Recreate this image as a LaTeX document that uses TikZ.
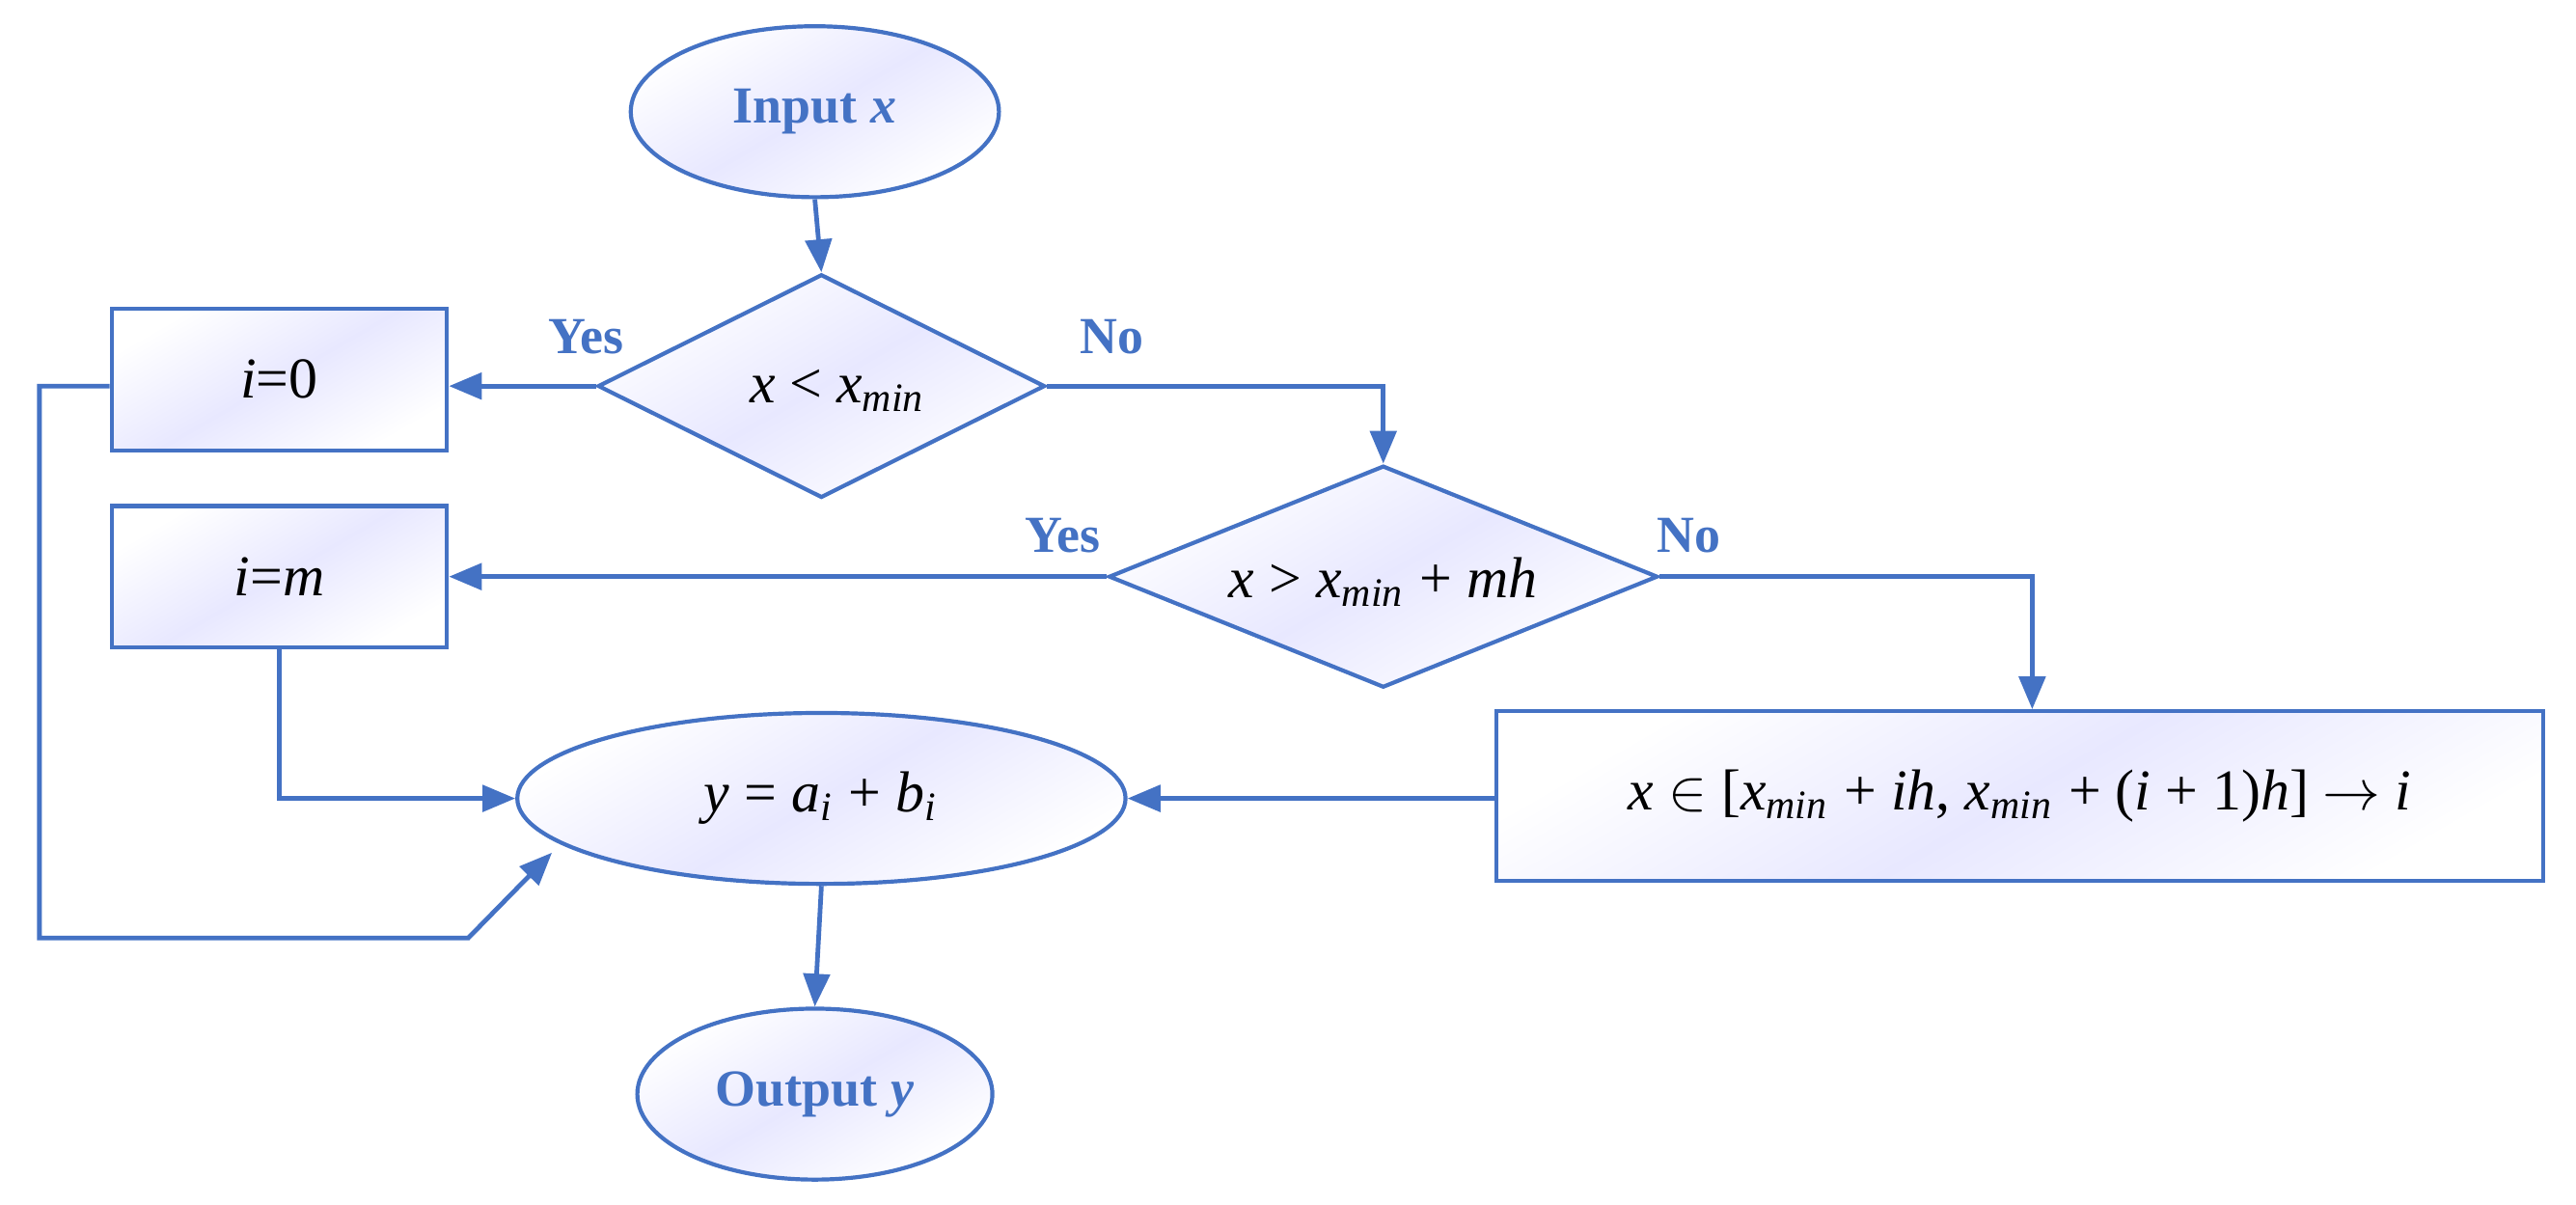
\documentclass[tikz,border=0pt]{standalone}
\usepackage{fontspec}
\setmainfont{Liberation Serif}
\usetikzlibrary{shapes.geometric,arrows.meta}
\definecolor{bl}{HTML}{4472C4}
\newcommand{\itx}{\textit}
\begin{document}
\begin{tikzpicture}[x=0.01cm,y=-0.01cm,
  sh/.style={draw=bl,line width=0.7pt,shading=axis,left color=white,right color=white,middle color=blue!9,shading angle=30,inner sep=0pt},
  el/.style={sh,ellipse},
  bx/.style={sh,rectangle},
  dm/.style={sh,diamond},
  ar/.style={draw=bl,line width=0.8pt,-{Triangle[length=0.2cm,width=0.16cm]}},
  lab/.style={text=bl,font=\fontsize{9}{10}\selectfont\bfseries},
  tx/.style={font=\fontsize{10}{12}\selectfont}]
\useasboundingbox (0,0) rectangle (1568,733);
\node[el,minimum width=2.24cm,minimum height=1.04cm,lab] (in) at (496,68) {Input \textit{x}};
\node[dm,minimum width=2.72cm,minimum height=1.36cm,aspect=2] (d1) at (500,235) {};
\node[tx] at (510,238) {\itx{x} < \itx{x}\textsubscript{\itx{min}}};
\node[bx,minimum width=2.04cm,minimum height=0.86cm,tx] (b0) at (170,231) {\itx{i}=0};
\node[dm,minimum width=3.34cm,minimum height=1.35cm,aspect=2.5] (d2) at (842,351) {};
\node[tx] at (842,354) {\itx{x} > \itx{x}\textsubscript{\itx{min}} + \itx{mh}};
\node[bx,minimum width=2.04cm,minimum height=0.86cm,tx] (bm) at (170,351) {\itx{i}=\itx{m}};
\node[el,minimum width=3.7cm,minimum height=1.04cm,tx] (y) at (500,486) {\itx{y} = \itx{a}\textsubscript{\itx{i}} + \itx{b}\textsubscript{\itx{i}}};
\node[bx,minimum width=6.37cm,minimum height=1.03cm,tx] (bi) at (1229.5,484.5) {\itx{x} $\in$ [\itx{x}\textsubscript{\itx{min}} + \itx{ih}, \itx{x}\textsubscript{\itx{min}} + (\itx{i} + 1)\itx{h}] $\rightarrow$ \itx{i}};
\node[el,minimum width=2.16cm,minimum height=1.04cm,lab] (out) at (496,666) {Output \textit{y}};
\node[lab] at (357,205) {Yes};
\node[lab] at (677,205) {No};
\node[lab] at (647,326) {Yes};
\node[lab] at (1028,326) {No};
\coordinate (c1) at (24,235);
\coordinate (c2) at (24,571);
\coordinate (c3) at (285,571);
\coordinate (c4) at (336,519);
\draw[ar] (in.south) -- (d1.north);
\draw[ar] (d1.west) -- (b0.east |- d1.west);
\draw[ar] (d1.east) -| (d2.north);
\draw[ar] (d2.west) -- (bm.east);
\draw[ar] (d2.east) -| (bi.north -| 1237,0);
\draw[ar] (bi.west |- y.east) -- (y.east);
\draw[ar] (bm.south) |- (y.west);
\draw[ar] (b0.west |- c1) -- (c1) -- (c2) -- (c3) -- (c4);
\draw[ar] (y.south) -- (out.north);
\end{tikzpicture}
\end{document}
